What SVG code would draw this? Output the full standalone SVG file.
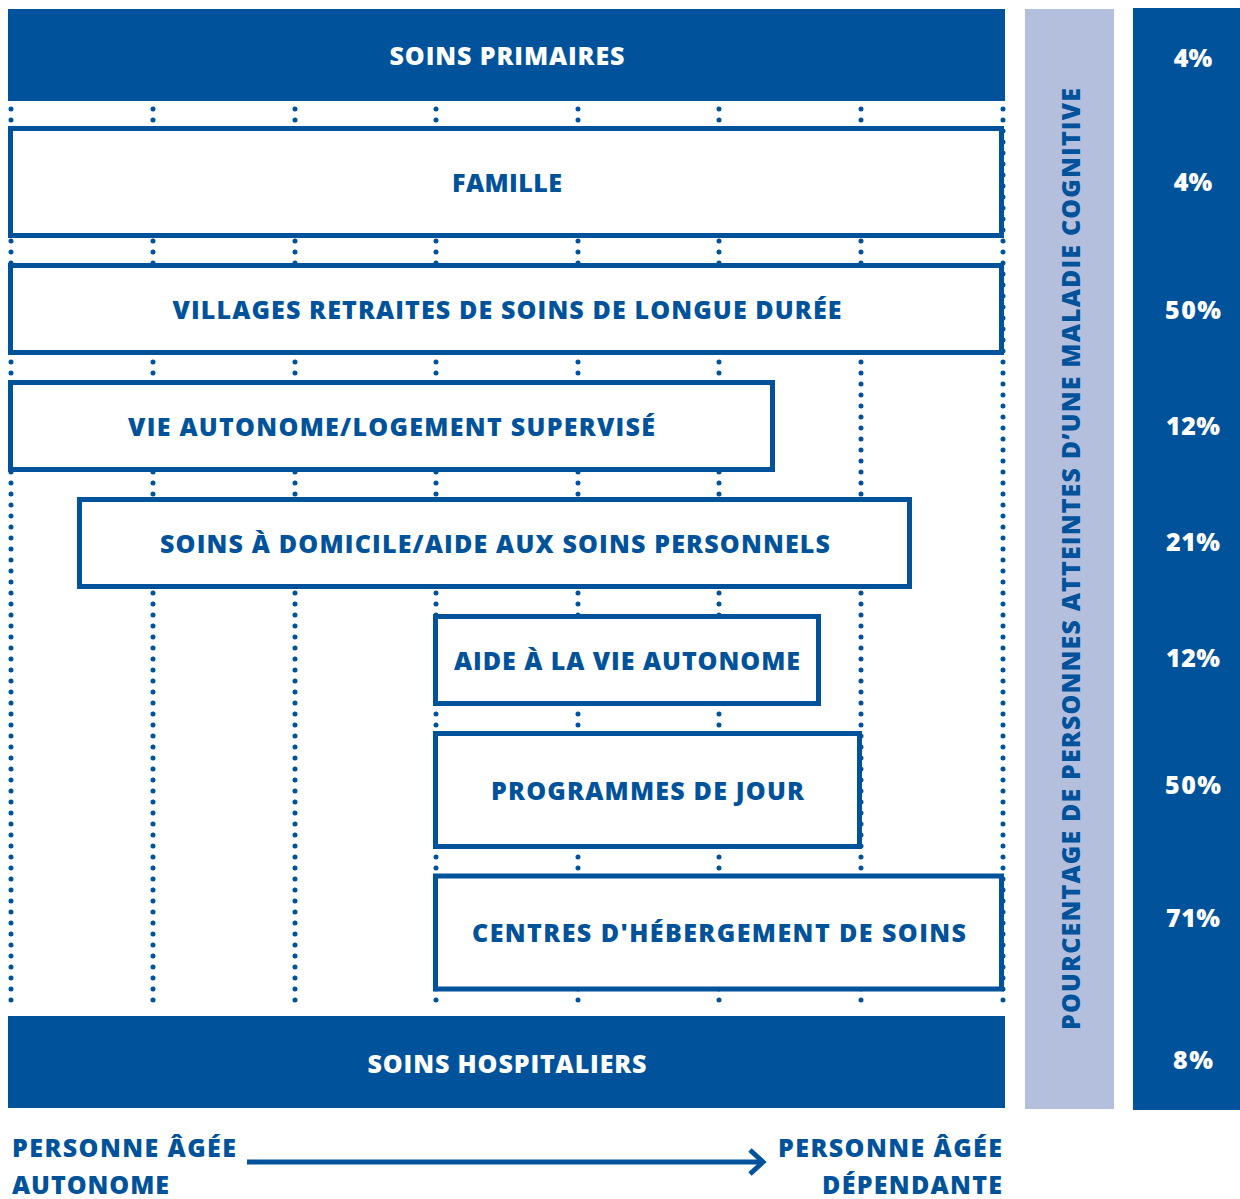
<svg xmlns="http://www.w3.org/2000/svg" width="1240" height="1199" viewBox="0 0 1240 1199">
  <style>
    .bar { fill: #00529B; }
    .box { fill: #FFFFFF; stroke: #00529B; stroke-width: 5; }
    .dots { stroke: #00529B; stroke-width: 5; stroke-linecap: round; stroke-dasharray: 0 11; fill: none; }
    .lbl { font-family: "Open Sans", Lato, "Liberation Sans", sans-serif; font-weight: 800; font-size: 25px; fill: #00529B; text-anchor: middle; }
    .wlbl { font-family: "Open Sans", Lato, "Liberation Sans", sans-serif; font-weight: 800; font-size: 25px; fill: #FFFFFF; text-anchor: middle; }
    .pct { font-family: "Open Sans", Lato, "Liberation Sans", sans-serif; font-weight: 800; font-size: 25px; fill: #FFFFFF; text-anchor: middle; }
    .axis { font-family: "Open Sans", Lato, "Liberation Sans", sans-serif; font-weight: 800; font-size: 25px; fill: #00529B; }
    .arrow { stroke: #00529B; stroke-width: 5; fill: none; }
  </style>

  <rect width="1240" height="1199" fill="#FFFFFF"/>

  <!-- vertical dotted guides and the axis arrow -->
  <g id="connectors">
    <line class="dots" x1="11" y1="109" x2="11" y2="1010"/>
    <line class="dots" x1="153" y1="109" x2="153" y2="1010"/>
    <line class="dots" x1="295" y1="109" x2="295" y2="1010"/>
    <line class="dots" x1="436" y1="109" x2="436" y2="1010"/>
    <line class="dots" x1="578" y1="109" x2="578" y2="1010"/>
    <line class="dots" x1="719" y1="109" x2="719" y2="1010"/>
    <line class="dots" x1="861" y1="109" x2="861" y2="1010"/>
    <line class="dots" x1="1003" y1="109" x2="1003" y2="1010"/>
    <line class="arrow" x1="247" y1="1162" x2="761" y2="1162"/>
    <polyline class="arrow" points="750,1150 763,1162 750,1174"/>
  </g>

  <g id="soins-primaires">
    <rect class="bar" x="8" y="9" width="997" height="92"/>
    <text class="wlbl" x="507" y="65" textLength="235" lengthAdjust="spacing">SOINS PRIMAIRES</text>
  </g>

  <g id="famille">
    <rect class="box" x="10.5" y="128.5" width="991" height="107"/>
    <text class="lbl" x="507" y="192" textLength="110" lengthAdjust="spacing">FAMILLE</text>
  </g>

  <g id="villages-retraites">
    <rect class="box" x="10.5" y="265.5" width="991" height="87"/>
    <text class="lbl" x="507" y="319" textLength="669" lengthAdjust="spacing">VILLAGES RETRAITES DE SOINS DE LONGUE DURÉE</text>
  </g>

  <g id="vie-autonome">
    <rect class="box" x="10.5" y="382.5" width="762" height="87"/>
    <text class="lbl" x="391.5" y="436" textLength="527" lengthAdjust="spacing">VIE AUTONOME/LOGEMENT SUPERVISÉ</text>
  </g>

  <g id="soins-domicile">
    <rect class="box" x="79.5" y="499.5" width="830" height="87"/>
    <text class="lbl" x="495" y="553" textLength="670" lengthAdjust="spacing">SOINS À DOMICILE/AIDE AUX SOINS PERSONNELS</text>
  </g>

  <g id="aide-vie-autonome">
    <rect class="box" x="435.5" y="616.5" width="383" height="87"/>
    <text class="lbl" x="627" y="670" textLength="346" lengthAdjust="spacing">AIDE À LA VIE AUTONOME</text>
  </g>

  <g id="programmes-jour">
    <rect class="box" x="435.5" y="733.5" width="424" height="113"/>
    <text class="lbl" x="647.5" y="800" textLength="313" lengthAdjust="spacing">PROGRAMMES DE JOUR</text>
  </g>

  <g id="centres-hebergement">
    <rect class="box" x="435.5" y="876" width="566" height="113"/>
    <text class="lbl" x="719" y="942" textLength="494" lengthAdjust="spacing">CENTRES D'HÉBERGEMENT DE SOINS</text>
  </g>

  <g id="soins-hospitaliers">
    <rect class="bar" x="8" y="1016" width="997" height="92"/>
    <text class="wlbl" x="507" y="1073" textLength="279" lengthAdjust="spacing">SOINS HOSPITALIERS</text>
  </g>

  <g id="titre-pourcentage">
    <rect x="1025" y="9" width="89" height="1100" fill="#B4BEDD"/>
    <text class="lbl" transform="translate(1080 559) rotate(-90)" x="0" y="0" textLength="942" lengthAdjust="spacing">POURCENTAGE DE PERSONNES ATTEINTES D’UNE MALADIE COGNITIVE</text>
  </g>

  <g id="pourcentages">
    <rect class="bar" x="1133" y="8" width="107" height="1102"/>
    <text class="pct" x="1193" y="67">4%</text>
    <text class="pct" x="1193" y="191">4%</text>
    <text class="pct" x="1193" y="319" textLength="56" lengthAdjust="spacing">50%</text>
    <text class="pct" x="1193" y="435" textLength="54" lengthAdjust="spacing">12%</text>
    <text class="pct" x="1193" y="551" textLength="54" lengthAdjust="spacing">21%</text>
    <text class="pct" x="1193" y="667" textLength="54" lengthAdjust="spacing">12%</text>
    <text class="pct" x="1193" y="794" textLength="56" lengthAdjust="spacing">50%</text>
    <text class="pct" x="1193" y="927" textLength="54" lengthAdjust="spacing">71%</text>
    <text class="pct" x="1193" y="1069" textLength="40" lengthAdjust="spacing">8%</text>
  </g>

  <g id="autonome">
    <text class="axis" x="12" y="1157" textLength="224" lengthAdjust="spacing">PERSONNE ÂGÉE</text>
    <text class="axis" x="12" y="1194" textLength="157" lengthAdjust="spacing">AUTONOME</text>
  </g>

  <g id="dependante">
    <text class="axis" x="778" y="1157" textLength="224" lengthAdjust="spacing">PERSONNE ÂGÉE</text>
    <text class="axis" x="822" y="1194" textLength="180" lengthAdjust="spacing">DÉPENDANTE</text>
  </g>
</svg>
